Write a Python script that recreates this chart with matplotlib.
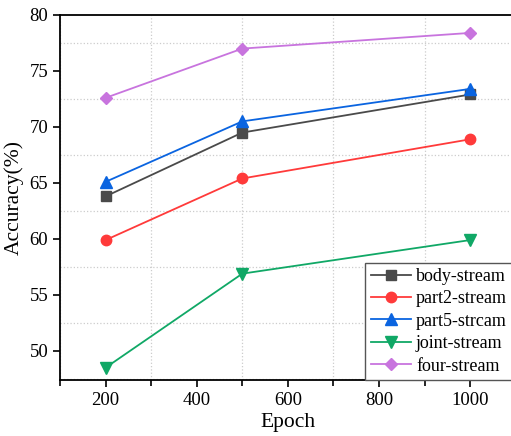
import numpy as np
import matplotlib.pyplot as plt
from matplotlib.ticker import MultipleLocator

# Данные
epochs = [200, 500, 1000]
body_stream = [63.8, 69.5, 72.9]
part2_stream = [59.9, 65.4, 68.9]
part5_stream = [65.1, 70.5, 73.4]
joint_stream = [48.5, 56.9, 59.9]
four_stream = [72.6, 77.0, 78.4]

labels = ['body-stream', 'part2-stream', 'part5-strcam', 'joint-stream', 'four-stream']


def main():
    plt.rcParams['font.family'] = ['Liberation Serif', 'DejaVu Serif']

    fig = plt.figure(figsize=(5.11, 4.36), dpi=100)
    ax = fig.add_axes([0.1174, 0.1284, 0.892, 0.8372])

    series = [body_stream, part2_stream, part5_stream, joint_stream, four_stream]
    colors = ['#4a4a4a', '#ff3a3a', '#0a64e0', '#10a866', '#c874de']
    markers = ['s', 'o', '^', 'v', 'D']
    sizes = [7, 7.5, 8, 8, 6.5]

    for vals, lab, c, m, s in zip(series, labels, colors, markers, sizes):
        ax.plot(epochs, vals, color=c, marker=m, markersize=s, linewidth=1.3, label=lab)

    ax.set_xlim(100, 1100)
    ax.set_ylim(47.4, 80)
    ax.xaxis.set_major_locator(MultipleLocator(200))
    ax.xaxis.set_minor_locator(MultipleLocator(100))
    ax.yaxis.set_major_locator(MultipleLocator(5))
    ax.yaxis.set_minor_locator(MultipleLocator(2.5))

    ax.grid(True, which='minor', linestyle=':', color='#cccccc', linewidth=0.9)
    ax.tick_params(axis='both', which='major', labelsize=13.5, direction='out', length=5, width=1.2)
    ax.tick_params(axis='x', which='minor', direction='out', length=4, width=1.2)
    ax.tick_params(axis='y', which='minor', length=0)

    ax.spines['right'].set_visible(False)
    for sp in ['left', 'bottom', 'top']:
        ax.spines[sp].set_linewidth(1.3)

    ax.set_xlabel('Epoch', fontsize=15.5, labelpad=3)
    ax.set_ylabel('Accuracy(%)', fontsize=15.5)

    ax.legend(loc='lower left', bbox_to_anchor=(0.67, 0.0), borderaxespad=0,
              fontsize=13, fancybox=False, edgecolor='#555555', framealpha=1,
              handlelength=2.2, labelspacing=0.3, borderpad=0.3, handletextpad=0.3)

    fig.savefig('out.png', dpi=100)


if __name__ == "__main__":
    main()
